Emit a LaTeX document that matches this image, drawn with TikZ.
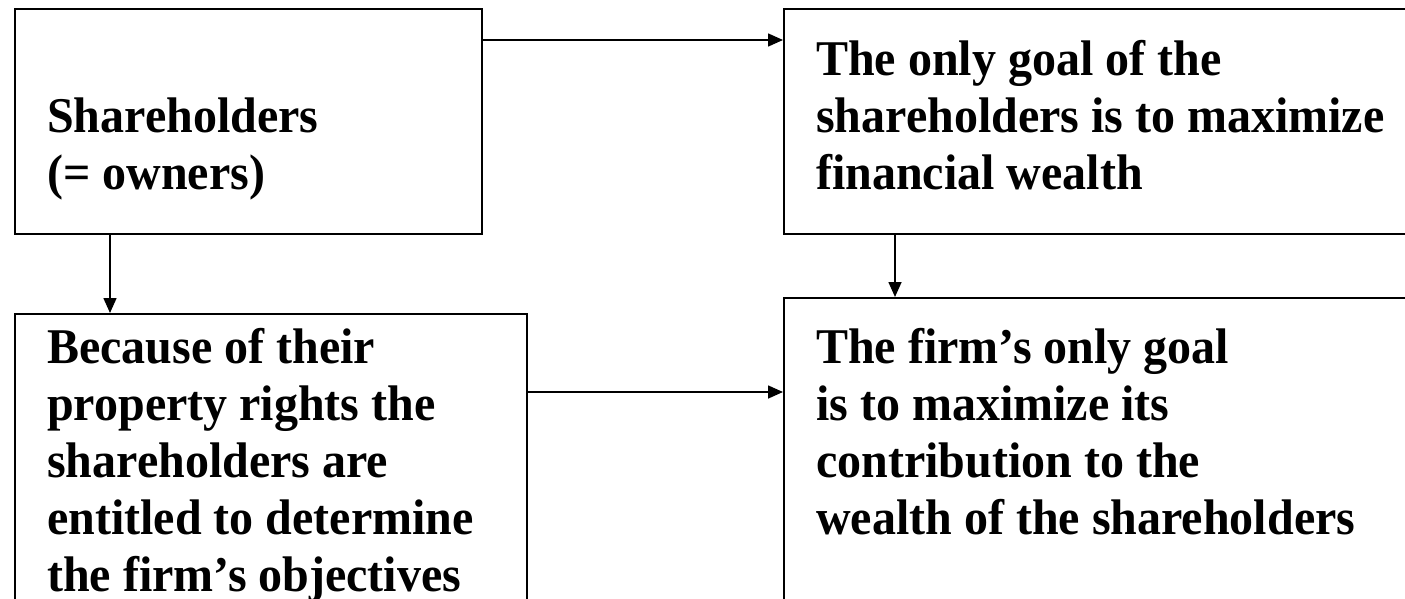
\documentclass[tikz,border=0pt]{standalone}
\usepackage{fontspec}
\setmainfont{Liberation Serif}
\newfontfamily\reffont{Liberation Serif}[FakeStretch=0.96]
\usetikzlibrary{arrows.meta}
\begin{document}
\begin{tikzpicture}[x=1pt,y=-1pt,
  box/.style={draw, line width=1.6pt, rectangle, inner sep=0pt, anchor=north west},
  txt/.style={anchor=base west, inner sep=0pt, font=\reffont\bfseries\fontsize{50}{57}\selectfont},
  arr/.style={line width=1.6pt, -{Triangle[length=15pt,width=13pt]}}]
\useasboundingbox (0,0) rectangle (1405,599);
\clip (0,0) rectangle (1405,599);
% boxes
\node[box, minimum width=467pt, minimum height=225pt] (A) at (14,8) {};
\node[box, minimum width=660pt, minimum height=225pt] (B) at (783,8) {};
\node[box, minimum width=512pt, minimum height=320pt] (C) at (14,313) {};
\node[box, minimum width=660pt, minimum height=340pt] (D) at (783,297) {};
% texts
\node[txt] (tA) at (47,132) {\parbox[t]{440pt}{\raggedright Shareholders\\(= owners)}};
\node[txt] (tB) at (816,76) {\parbox[t]{600pt}{\raggedright The only goal of the\\shareholders is to maximize\\financial wealth}};
\node[txt] (tC) at (47,363) {\parbox[t]{470pt}{\raggedright Because of their\\property rights the\\shareholders are\\entitled to determine\\the firm’s objectives}};
\node[txt] (tD) at (816,363) {\parbox[t]{600pt}{\raggedright The firm’s only goal\\is to maximize its\\contribution to the\\wealth of the shareholders}};
% helper coordinates
\coordinate (yab) at (0,40);
\coordinate (xac) at (110,0);
\coordinate (xbd) at (895,0);
\coordinate (ycd) at (0,392);
% connectors
\draw[arr] (A.east |- yab) -- (B.west |- yab);
\draw[arr] (A.south -| xac) -- (C.north -| xac);
\draw[arr] (B.south -| xbd) -- (D.north -| xbd);
\draw[arr] (C.east |- ycd) -- (D.west |- ycd);
\end{tikzpicture}
\end{document}
